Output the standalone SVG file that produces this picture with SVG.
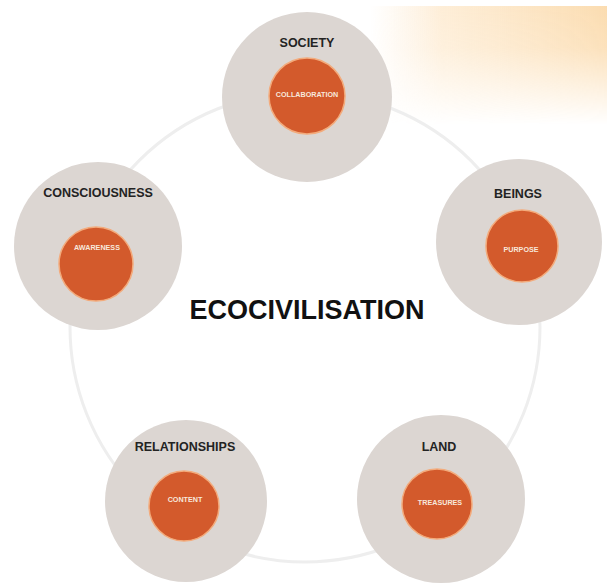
<svg xmlns="http://www.w3.org/2000/svg" width="607" height="584" viewBox="0 0 607 584">
  <defs>
    <linearGradient id="glowH" x1="370" y1="0" x2="607" y2="0" gradientUnits="userSpaceOnUse">
      <stop offset="0" stop-color="#fde9cf" stop-opacity="0"/>
      <stop offset="0.3" stop-color="#fde6c6" stop-opacity="0.7"/>
      <stop offset="1" stop-color="#fbdcb0" stop-opacity="1"/>
    </linearGradient>
    <linearGradient id="fadeV" x1="0" y1="6" x2="0" y2="125" gradientUnits="userSpaceOnUse">
      <stop offset="0" stop-color="#ffffff" stop-opacity="1"/>
      <stop offset="0.35" stop-color="#ffffff" stop-opacity="0.85"/>
      <stop offset="1" stop-color="#ffffff" stop-opacity="0"/>
    </linearGradient>
    <mask id="glowMask" maskUnits="userSpaceOnUse" x="0" y="0" width="607" height="584">
      <rect x="330" y="6" width="277" height="125" fill="url(#fadeV)"/>
    </mask>
  </defs>
  <style>
    .outer { fill: #dcd6d2; }
    .inner { fill: #d35a2c; stroke: #f3ab7c; stroke-width: 1.5; }
    .label { font-family: "Liberation Sans", Arial, sans-serif; font-weight: bold; font-size: 12.5px; fill: #232323; text-anchor: middle; }
    .sub { font-family: "Liberation Sans", Arial, sans-serif; font-weight: bold; font-size: 7.2px; fill: #f7e8dc; text-anchor: middle; }
    .title { font-family: "Liberation Sans", Arial, sans-serif; font-weight: bold; font-size: 27px; fill: #111111; text-anchor: middle; }
    .ring { fill: none; stroke: #eeeeee; stroke-width: 3; }
  </style>
  <rect width="607" height="584" fill="#ffffff"/>
  <rect x="330" y="6" width="277" height="125" fill="url(#glowH)" mask="url(#glowMask)"/>

  <g id="connectors">
    <circle class="ring" cx="305" cy="327" r="235"/>
  </g>

  <g id="title">
    <text class="title" x="307" y="319">ECOCIVILISATION</text>
  </g>

  <g id="society">
    <circle class="outer" cx="307" cy="97" r="85"/>
    <text class="label" x="307" y="47">SOCIETY</text>
    <circle class="inner" cx="307" cy="96" r="38"/>
    <text class="sub" x="307" y="97">COLLABORATION</text>
  </g>

  <g id="beings">
    <circle class="outer" cx="519" cy="242" r="83"/>
    <text class="label" x="518" y="198">BEINGS</text>
    <circle class="inner" cx="522" cy="246" r="36"/>
    <text class="sub" x="521" y="252">PURPOSE</text>
  </g>

  <g id="land">
    <circle class="outer" cx="441" cy="499" r="84"/>
    <text class="label" x="439" y="451">LAND</text>
    <circle class="inner" cx="437" cy="504" r="35"/>
    <text class="sub" x="440" y="505">TREASURES</text>
  </g>

  <g id="relationships">
    <circle class="outer" cx="186" cy="501" r="81"/>
    <text class="label" x="185" y="451">RELATIONSHIPS</text>
    <circle class="inner" cx="184" cy="506" r="35"/>
    <text class="sub" x="185" y="502">CONTENT</text>
  </g>

  <g id="consciousness">
    <circle class="outer" cx="98" cy="246" r="84"/>
    <text class="label" x="98" y="197">CONSCIOUSNESS</text>
    <circle class="inner" cx="96" cy="264" r="37"/>
    <text class="sub" x="97" y="250">AWARENESS</text>
  </g>
</svg>
